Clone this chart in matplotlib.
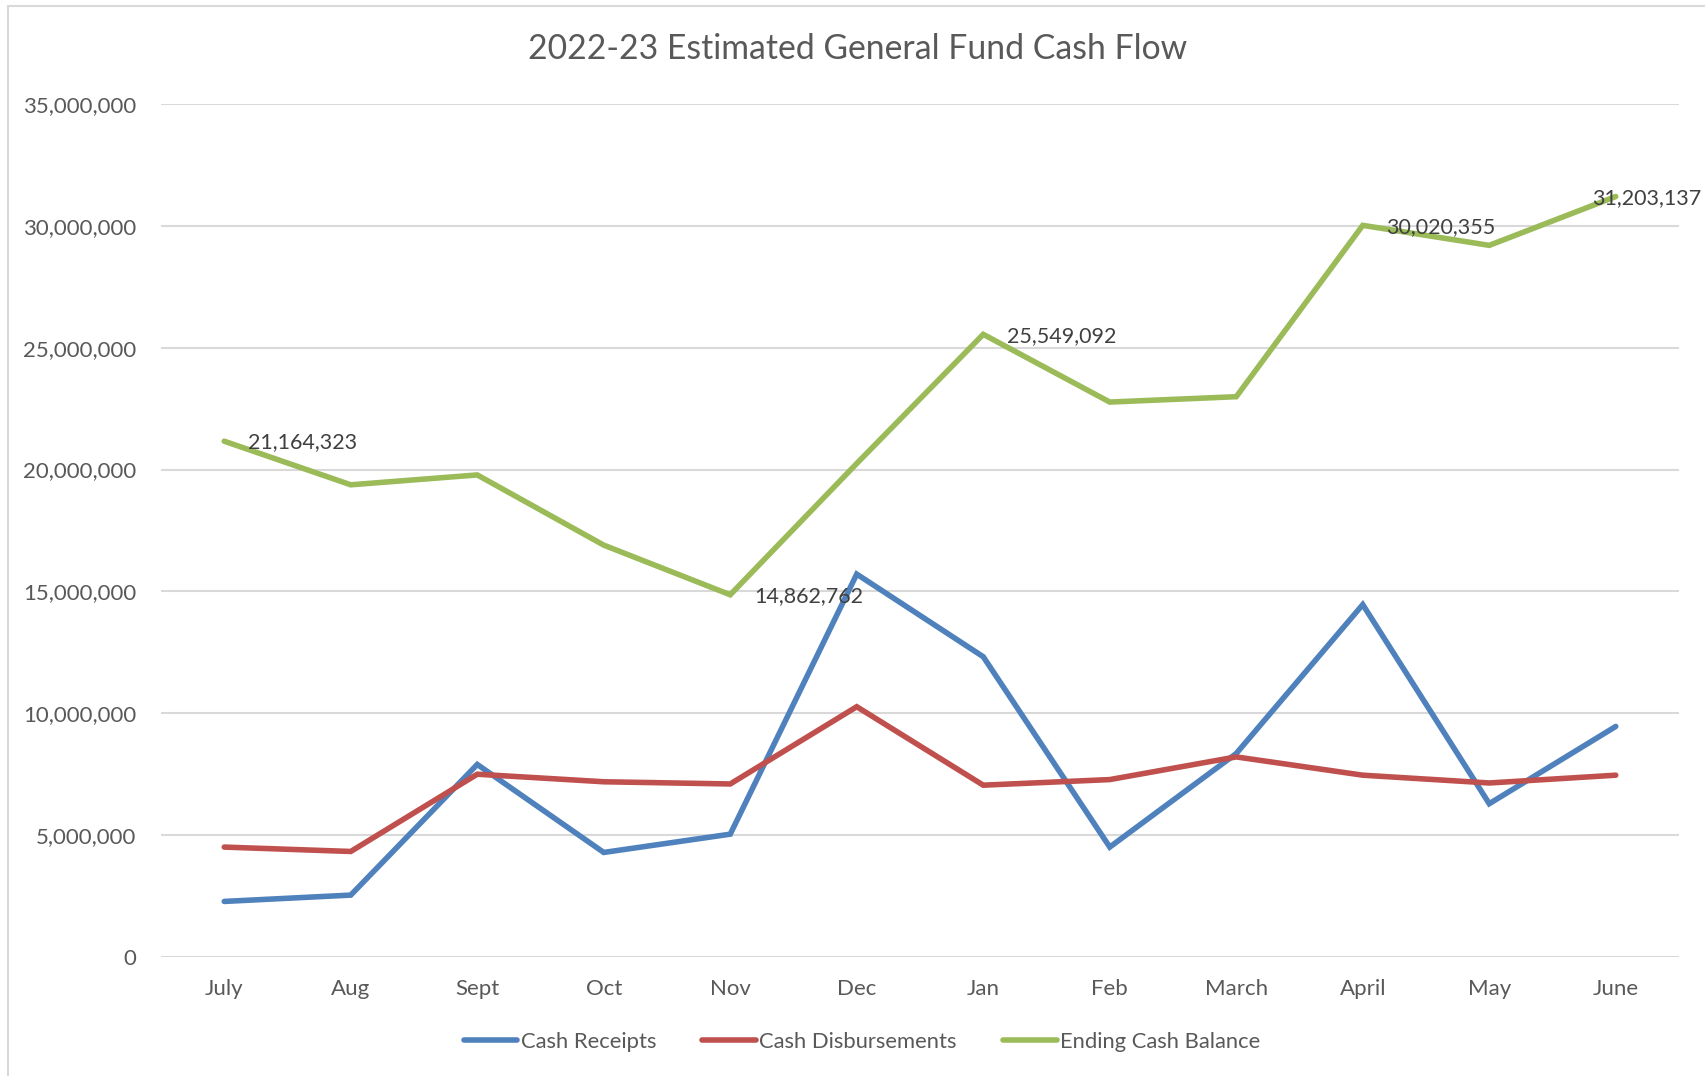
import matplotlib
matplotlib.use("Agg")
import matplotlib.pyplot as plt
from matplotlib.ticker import FuncFormatter, MultipleLocator
from matplotlib.lines import Line2D
from matplotlib.patches import Rectangle

months = ["July", "Aug", "Sept", "Oct", "Nov", "Dec", "Jan", "Feb", "March", "April", "May", "June"]
cash_receipts = [2280000, 2540000, 7900000, 4290000, 5040000, 15710000,
                 12320000, 4510000, 8350000, 14460000, 6290000, 9460000]
cash_disbursements = [4510000, 4330000, 7500000, 7190000, 7100000, 10270000,
                      7050000, 7280000, 8210000, 7460000, 7140000, 7460000]
ending_balance = [21164323, 19375000, 19780000, 16900000, 14862762, 20250000,
                  25549092, 22770000, 22990000, 30020355, 29200000, 31203137]
labelled_idx = [0, 4, 6, 9, 11]

FONT = ["Lato", "DejaVu Sans"]
plt.rcParams['font.family'] = FONT

W, H = 1705, 1076
fig = plt.figure(figsize=(W / 100, H / 100), dpi=100)
fig.patch.set_facecolor("white")

# outer chart border (left and top visible)
fig.add_artist(Rectangle((8 / W, -0.01), 1.1, (H - 6) / H + 0.01, transform=fig.transFigure,
                         fill=False, edgecolor="#D9D9D9", linewidth=1.5))

left, right = 161 / W, 1679 / W
bottom, top = 1 - 957 / H, 1 - 104 / H
ax = fig.add_axes([left, bottom, right - left, top - bottom])

x = list(range(len(months)))
blue, red, green = "#4F81BD", "#C0504D", "#9BBB59"
lw = 4.0
ax.plot(x, cash_receipts, color=blue, lw=lw, solid_capstyle="round", solid_joinstyle="miter", zorder=3)
ax.plot(x, cash_disbursements, color=red, lw=lw, solid_capstyle="round", solid_joinstyle="miter", zorder=3)
ax.plot(x, ending_balance, color=green, lw=lw, solid_capstyle="round", solid_joinstyle="miter", zorder=3)

ax.set_xlim(-0.5, len(months) - 0.5)
ax.set_ylim(0, 35000000)
ax.yaxis.set_major_locator(MultipleLocator(5000000))
ax.yaxis.set_major_formatter(FuncFormatter(lambda v, p: f"{int(v):,}"))
ax.set_xticks(x)
ax.set_xticklabels(months)
ax.grid(axis="y", color="#D9D9D9", linewidth=1.5)
ax.set_axisbelow(True)
for s in ax.spines.values():
    s.set_visible(False)
ax.tick_params(axis="both", length=0, labelsize=16, labelcolor="#595959")
ax.tick_params(axis="y", pad=18)
ax.tick_params(axis="x", pad=16)

for i in labelled_idx:
    dx = 17 if i != len(months) - 1 else -17
    ax.annotate(f"{ending_balance[i]:,}", (x[i], ending_balance[i]),
                xytext=(dx, -1), textcoords="offset points",
                ha="left", va="center", fontsize=15.5, color="#404040", zorder=4)

fig.text(858 / W, 1 - 49 / H, "2022-23 Estimated General Fund Cash Flow",
         ha="center", va="center", fontsize=24.3, color="#595959")

handles = [Line2D([0], [0], color=c, lw=lw, solid_capstyle="round") for c in (blue, red, green)]
fig.legend(handles, ["Cash Receipts", "Cash Disbursements", "Ending Cash Balance"],
           loc="center", bbox_to_anchor=(862 / W, 1 - 1042 / H), ncol=3, frameon=False,
           fontsize=15.8, labelcolor="#595959", handlelength=2.45, handletextpad=0.15,
           columnspacing=2.1)

fig.savefig("out.png", dpi=100, facecolor="white")
